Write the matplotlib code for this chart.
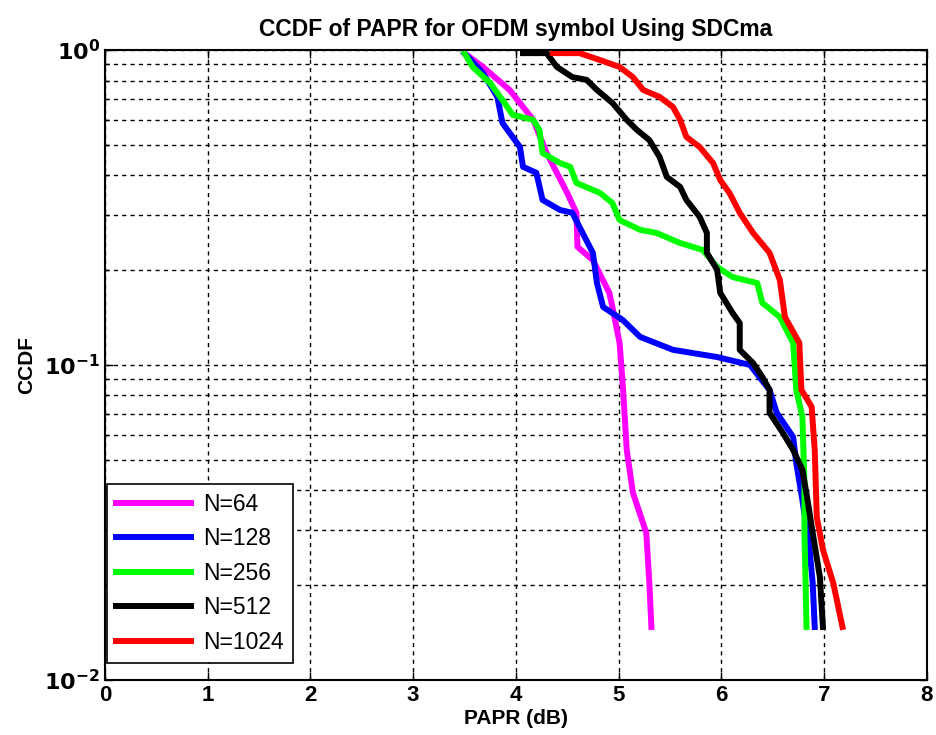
"""CCDF of PAPR curves (semilog) for several OFDM sizes"""
import numpy as np
import matplotlib
matplotlib.use("Agg")
import matplotlib.pyplot as plt
from matplotlib.ticker import FixedLocator, LogLocator, NullFormatter

plt.rcParams['font.family'] = ['Liberation Sans', 'DejaVu Sans']

# curves: PAPR [dB] and log10(CCDF)
papr_64 = [3.50, 3.68, 3.94, 4.17, 4.30, 4.50, 4.59, 4.60, 4.75, 4.91, 4.94, 5.01,
           5.04, 5.08, 5.14, 5.27, 5.30, 5.32]
lg_64 = [-0.010, -0.054, -0.127, -0.222, -0.327, -0.454, -0.517, -0.625, -0.667, -0.771,
         -0.816, -0.930, -1.057, -1.270, -1.406, -1.533, -1.692, -1.832]

papr_128 = [3.50, 3.68, 3.82, 3.87, 4.04, 4.07, 4.20, 4.26, 4.43, 4.55, 4.65, 4.75, 4.79,
            4.85, 5.04, 5.21, 5.53, 5.96, 6.28, 6.37, 6.47, 6.54, 6.70, 6.73, 6.79, 6.86,
            6.89, 6.91]
lg_128 = [-0.010, -0.073, -0.149, -0.232, -0.308, -0.371, -0.390, -0.476, -0.508, -0.517,
          -0.581, -0.644, -0.740, -0.816, -0.857, -0.911, -0.952, -0.975, -1.000, -1.038,
          -1.079, -1.152, -1.229, -1.311, -1.429, -1.587, -1.692, -1.832]

papr_256 = [3.50, 3.58, 3.75, 3.87, 3.97, 4.17, 4.23, 4.26, 4.43, 4.53, 4.59, 4.82, 4.94,
            5.01, 5.21, 5.37, 5.60, 5.82, 5.96, 6.11, 6.35, 6.40, 6.57, 6.70, 6.73, 6.79,
            6.81, 6.81, 6.83]
lg_256 = [-0.010, -0.054, -0.105, -0.159, -0.206, -0.222, -0.254, -0.327, -0.359, -0.371,
          -0.422, -0.454, -0.486, -0.540, -0.571, -0.581, -0.613, -0.635, -0.689, -0.721,
          -0.740, -0.803, -0.848, -0.930, -1.079, -1.165, -1.375, -1.533, -1.832]

papr_512 = [4.07, 4.30, 4.40, 4.55, 4.69, 4.79, 4.94, 5.08, 5.18, 5.30, 5.40, 5.47, 5.60,
            5.66, 5.79, 5.86, 5.86, 5.96, 5.99, 6.11, 6.18, 6.18, 6.31, 6.40, 6.47, 6.47,
            6.60, 6.70, 6.79, 6.84, 6.89, 6.96, 6.99]
lg_512 = [-0.010, -0.010, -0.054, -0.086, -0.095, -0.127, -0.168, -0.222, -0.254, -0.286,
          -0.340, -0.403, -0.435, -0.476, -0.530, -0.581, -0.644, -0.698, -0.771, -0.835,
          -0.867, -0.952, -0.994, -1.038, -1.079, -1.152, -1.216, -1.270, -1.333, -1.429,
          -1.533, -1.673, -1.832]

papr_1024 = [4.36, 4.62, 4.82, 5.01, 5.14, 5.24, 5.40, 5.53, 5.60, 5.66, 5.79, 5.92, 5.99,
             6.08, 6.18, 6.31, 6.47, 6.57, 6.62, 6.76, 6.78, 6.88, 6.91, 6.93, 6.99, 7.09,
             7.18]
lg_1024 = [-0.010, -0.010, -0.032, -0.054, -0.086, -0.127, -0.149, -0.181, -0.222, -0.276,
           -0.308, -0.359, -0.413, -0.454, -0.517, -0.581, -0.644, -0.730, -0.848, -0.930,
           -1.079, -1.133, -1.270, -1.483, -1.587, -1.692, -1.832]

labels = ["N=64", "N=128", "N=256", "N=512", "N=1024"]
colors = ["#ff00ff", "#0000ff", "#00ff00", "#000000", "#ff0000"]
xticks = [0, 1, 2, 3, 4, 5, 6, 7, 8]

series = [(papr_64, lg_64), (papr_128, lg_128), (papr_256, lg_256),
          (papr_512, lg_512), (papr_1024, lg_1024)]

fig = plt.figure(figsize=(9.37, 7.35), dpi=100)
ax = fig.add_axes([0.112, 0.075, 0.877, 0.857])

for (x, lg), lab, c in zip(series, labels, colors):
    ax.semilogy(x, 10 ** np.array(lg), color=c, linewidth=4.3, label=lab)

ax.set_xlim(0, 8)
ax.set_ylim(1e-2, 1)
ax.xaxis.set_major_locator(FixedLocator(xticks))
ax.yaxis.set_minor_locator(LogLocator(base=10, subs=np.arange(2, 10)))
ax.yaxis.set_minor_formatter(NullFormatter())
ax.set_yticks([1e-2, 1e-1, 1])
ax.set_yticklabels([r"$\mathbf{10^{-2}}$", r"$\mathbf{10^{-1}}$", r"$\mathbf{10^{0}}$"])
ax.set_xticklabels([str(t) for t in xticks])

ax.grid(True, which="major", color="black", linestyle=(0, (3, 3)), linewidth=1)
ax.grid(True, which="minor", axis="y", color="black", linestyle=(0, (3, 3)), linewidth=1)

ax.tick_params(which="both", direction="in", top=True, right=True, labelsize=16, width=1)
ax.tick_params(which="major", length=6)
ax.tick_params(which="minor", length=3)
for lbl in ax.get_xticklabels():
    lbl.set_fontweight("bold")
for sp in ax.spines.values():
    sp.set_linewidth(1.5)

ax.set_xlabel("PAPR (dB)", fontsize=15, fontweight="bold", labelpad=2)
ax.set_ylabel("CCDF", fontsize=15, fontweight="bold", labelpad=6)
ax.set_title("CCDF of PAPR for OFDM symbol Using SDCma", fontsize=16.5, fontweight="bold", pad=10)

leg = ax.legend(loc="lower left", bbox_to_anchor=(0.002, 0.027), borderaxespad=0,
                fontsize=16.5, fancybox=False, framealpha=1, edgecolor="black",
                handlelength=3.3, handletextpad=0.5, labelspacing=0.5, borderpad=0.4)
leg.get_frame().set_linewidth(1.2)

fig.savefig("out.png", dpi=100)
